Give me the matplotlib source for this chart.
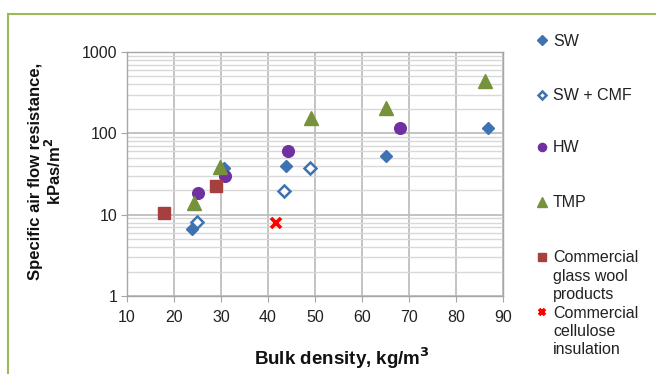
import matplotlib
matplotlib.use("Agg")
import matplotlib.pyplot as plt
from matplotlib.lines import Line2D
from matplotlib.ticker import LogLocator, NullFormatter, FixedLocator

plt.rcParams['font.family'] = ['Liberation Sans', 'DejaVu Sans']

# Data (bulk density kg/m3, specific air flow resistance kPas/m2)
sw_x = [23.9, 30.7, 43.8, 65.0, 86.8]
sw_y = [6.7, 37.4, 40.0, 53.0, 115.0]
swcmf_x = [24.8, 43.4, 48.9]
swcmf_y = [8.1, 19.3, 38.0]
hw_x = [25.0, 30.8, 44.2, 68.1]
hw_y = [18.4, 29.5, 61.0, 115.0]
tmp_x = [24.2, 29.7, 49.1, 65.2, 86.2]
tmp_y = [14.0, 39.0, 154.0, 203.0, 441.0]
glass_x = [17.8, 28.9]
glass_y = [10.4, 22.6]
cell_x = [41.6]
cell_y = [8.0]

x_ticks = [10, 20, 30, 40, 50, 60, 70, 80, 90]
y_ticks = [1, 10, 100, 1000]
y_ticklabels = ['1', '10', '100', '1000']

labels = ['SW', 'SW + CMF', 'HW', 'TMP',
          'Commercial\nglass wool\nproducts', 'Commercial\ncellulose\ninsulation']

W, H = 656, 374
fig = plt.figure(figsize=(W / 100, H / 100), dpi=100)
ax = fig.add_axes([127 / W, 1 - 296 / H, (503 - 127) / W, (296 - 52) / H])

blue = '#3F72B0'
purple = '#7030A0'
green = '#76923C'
brown = '#A5403E'
red = '#FF0000'

h_sw, = ax.plot(sw_x, sw_y, ls='none', marker='D', ms=6.6, color=blue, zorder=3)
h_cmf, = ax.plot(swcmf_x, swcmf_y, ls='none', marker='D', ms=6.0, mfc='white', mec=blue, mew=1.8, zorder=3)
h_hw, = ax.plot(hw_x, hw_y, ls='none', marker='o', ms=8.4, color=purple, zorder=3)
h_tmp, = ax.plot(tmp_x, tmp_y, ls='none', marker='^', ms=10, color=green, zorder=3)
h_gl, = ax.plot(glass_x, glass_y, ls='none', marker='s', ms=8, color=brown, zorder=3)
h_ce, = ax.plot(cell_x, cell_y, ls='none', marker='x', ms=6.5, mew=2.6, color=red, zorder=3)

ax.set_yscale('log')
ax.set_xlim(10, 90)
ax.set_ylim(1, 1000)
ax.xaxis.set_major_locator(FixedLocator(x_ticks))
ax.set_xticklabels([str(v) for v in x_ticks])
ax.yaxis.set_major_locator(FixedLocator(y_ticks))
ax.set_yticklabels(y_ticklabels)
ax.yaxis.set_minor_locator(LogLocator(base=10, subs=range(2, 10)))
ax.yaxis.set_minor_formatter(NullFormatter())

ax.grid(True, which='major', axis='both', color='#BEBEBE', lw=1.3, zorder=0)
ax.grid(True, which='minor', axis='y', color='#D8D8D8', lw=1.0, zorder=0)
ax.set_axisbelow(True)

for s in ax.spines.values():
    s.set_color('#A6A6A6')
    s.set_linewidth(1.0)

ax.tick_params(axis='both', which='major', labelsize=11.5, length=4, color='#A6A6A6',
               labelcolor='#222222', pad=3)
ax.tick_params(axis='y', which='minor', length=0)
ax.tick_params(axis='x', pad=6)

ax.set_xlabel('Bulk density, kg/m$^{\\mathbf{3}}$', fontsize=13.5, fontweight='bold', color='#111111')
ax.xaxis.set_label_coords((342 - 127) / (503 - 127), -(358 - 296) / (296 - 52), transform=ax.transAxes)
ax.xaxis.label.set_va('center')
ax.set_ylabel('Specific air flow resistance,\nkPas/m$^{\\mathbf{2}}$', fontsize=12, fontweight='bold',
              color='#111111', linespacing=1.05)
ax.yaxis.set_label_coords(-(127 - 46) / (503 - 127), (296 - 171) / (296 - 52), transform=ax.transAxes)
ax.yaxis.label.set_va('center')

# Legend entries placed individually
handles = [h_sw, h_cmf, h_hw, h_tmp, h_gl, h_ce]
ys = [41, 96, 148, 203, 258, 313]
fs = 11.5
line_h = 18.5
for hnd, lab, yy in zip(handles, labels, ys):
    lines = lab.split('\n')
    lg = fig.legend([hnd], [lines[0]], loc='center left',
                    bbox_to_anchor=(536 / W, 1 - yy / H), frameon=False,
                    fontsize=fs, borderpad=0, borderaxespad=0, handlelength=0.8,
                    handletextpad=0.25, markerscale=0.7)
    for t in lg.get_texts():
        t.set_color('#222222')
    for k, extra in enumerate(lines[1:], start=1):
        fig.text(553 / W, 1 - (yy + k * line_h) / H, extra, fontsize=fs, va='center',
                 ha='left', color='#222222')

# Green frame
fig.add_artist(Line2D([7.5 / W, 7.5 / W], [0, 1 - 13.5 / H], transform=fig.transFigure,
                      color='#9BBB59', lw=1.5))
fig.add_artist(Line2D([7.5 / W, 1], [1 - 13.5 / H, 1 - 13.5 / H], transform=fig.transFigure,
                      color='#9BBB59', lw=1.5))

fig.savefig('out.png', dpi=100)
